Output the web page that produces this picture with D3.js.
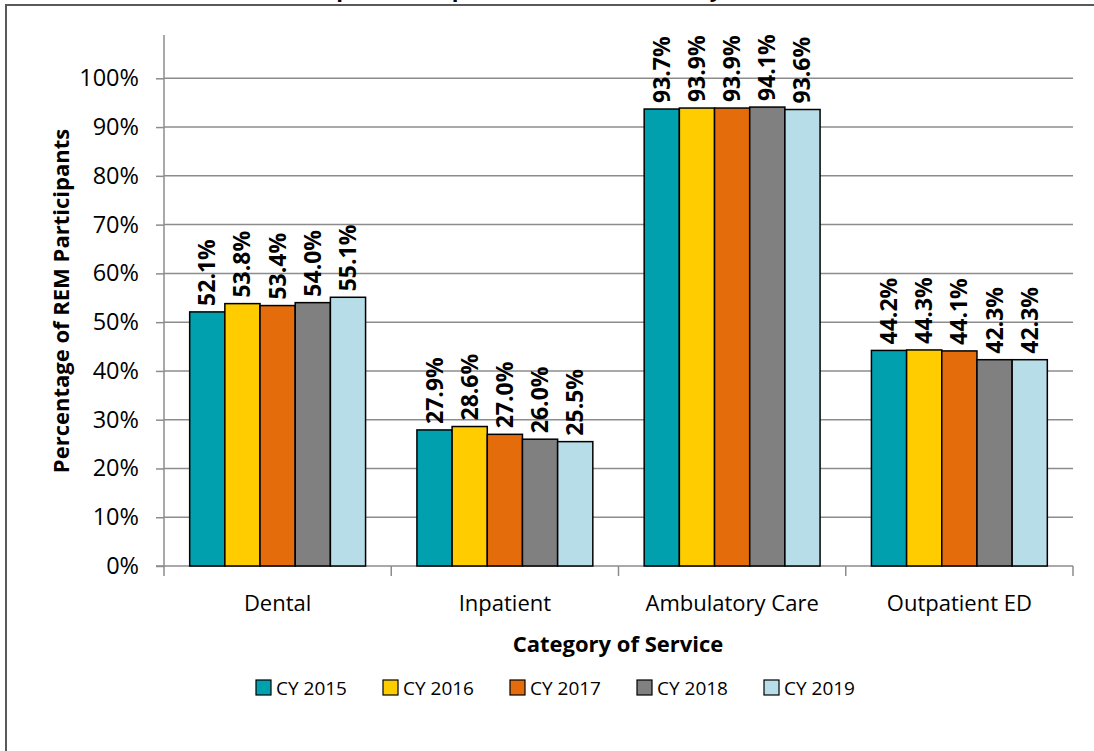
<!DOCTYPE html>
<html><head><meta charset="utf-8">
<script src="https://cdn.jsdelivr.net/npm/d3@7"></script>
<style>
body{margin:0;background:#fff;}
svg{display:block;font-family:"Open Sans",Lato,sans-serif;}
</style></head>
<body>
<svg id="chart" width="1094" height="751"></svg>
<script>
const categories = ["Dental", "Inpatient", "Ambulatory Care", "Outpatient ED"];
const seriesNames = ["CY 2015", "CY 2016", "CY 2017", "CY 2018", "CY 2019"];
const cy2015 = [0.521, 0.279, 0.937, 0.442];
const cy2016 = [0.538, 0.286, 0.939, 0.443];
const cy2017 = [0.534, 0.270, 0.939, 0.441];
const cy2018 = [0.540, 0.260, 0.941, 0.423];
const cy2019 = [0.551, 0.255, 0.936, 0.423];
const yTicks = [0, 0.1, 0.2, 0.3, 0.4, 0.5, 0.6, 0.7, 0.8, 0.9, 1.0];
const colors = ["#00A0AE", "#FFCC00", "#E46C0A", "#808080", "#B7DEE8"];
const title = "REM Participant Receipt of Services, Overall by Calendar Year";
const yTitle = "Percentage of REM Participants";
const xTitle = "Category of Service";

const seriesValues = [cy2015, cy2016, cy2017, cy2018, cy2019];
const svg = d3.select("#chart");

// frame
svg.append("rect").attr("x", 6).attr("y", 5).attr("width", 1094).attr("height", 800)
  .attr("fill", "#fff").attr("stroke", "#595959").attr("stroke-width", 2);

// title (mostly clipped above frame, as in the reference)
svg.append("text").attr("x", 547).attr("y", -3).attr("text-anchor", "middle")
  .attr("font-weight", "bold").attr("font-size", 22).attr("fill", "#000").text(title);

const pLeft = 164, pRight = 1073, pTop = 35, pBottom = 566;
const y = d3.scaleLinear().domain([0, 1.0]).range([pBottom, 78.3]);
const x0 = d3.scaleBand().domain(categories).range([pLeft, pRight]).paddingInner(0.226).paddingOuter(0.113);
const x1 = d3.scaleBand().domain(seriesNames).range([0, x0.bandwidth()]);

// gridlines
svg.append("g").selectAll("line").data(yTicks.slice(1)).join("line")
  .attr("x1", pLeft).attr("x2", pRight).attr("y1", d => y(d)).attr("y2", d => y(d))
  .attr("stroke", "#8c8c8c").attr("stroke-width", 1.5);

// y axis
const yAxis = svg.append("g").attr("transform", `translate(${pLeft},0)`)
  .call(d3.axisLeft(y).tickValues(yTicks).tickFormat(d3.format(".0%")).tickSize(8).tickPadding(17));
yAxis.select(".domain").remove();
yAxis.selectAll(".tick line").attr("stroke", "#8c8c8c").attr("stroke-width", 1.5);
yAxis.selectAll(".tick text").attr("font-size", 23.5).attr("fill", "#000").attr("font-family", "Open Sans");
svg.append("line").attr("x1", pLeft).attr("x2", pLeft).attr("y1", pTop).attr("y2", pBottom + 1)
  .attr("stroke", "#8c8c8c").attr("stroke-width", 1.5);

// x axis
svg.append("line").attr("x1", pLeft - 8).attr("x2", pRight).attr("y1", pBottom).attr("y2", pBottom)
  .attr("stroke", "#8c8c8c").attr("stroke-width", 1.5);
const bounds = categories.map(c => x0(c) - x0.step() * x0.paddingInner() / 2);
bounds.push(pRight);
svg.append("g").selectAll("line").data(bounds).join("line")
  .attr("x1", d => d).attr("x2", d => d).attr("y1", pBottom).attr("y2", pBottom + 10)
  .attr("stroke", "#8c8c8c").attr("stroke-width", 1.5);
svg.append("g").selectAll("text").data(categories).join("text")
  .attr("x", d => x0(d) + x0.bandwidth() / 2).attr("y", 611)
  .attr("text-anchor", "middle").attr("font-size", 22).attr("fill", "#000").text(d => d);

// bars
const rows = [];
categories.forEach((c, i) => seriesNames.forEach((s, j) => rows.push({c, s, j, v: seriesValues[j][i]})));
const g = svg.append("g");
g.selectAll("rect").data(rows).join("rect")
  .attr("x", d => x0(d.c) + x1(d.s)).attr("width", x1.bandwidth())
  .attr("y", d => y(d.v)).attr("height", d => pBottom - y(d.v))
  .attr("fill", d => colors[d.j]).attr("stroke", "#000").attr("stroke-width", 1.5);
g.selectAll("text").data(rows).join("text")
  .attr("transform", d => `translate(${x0(d.c) + x1(d.s) + x1.bandwidth() / 2 + 8},${y(d.v) - 6}) rotate(-90)`)
  .attr("font-size", 23).attr("font-weight", "bold").attr("fill", "#000")
  .text(d => d3.format(".1%")(d.v));

// axis titles
svg.append("text").attr("transform", "translate(69,301) rotate(-90)").attr("text-anchor", "middle")
  .attr("font-size", 22).attr("font-weight", "bold").attr("fill", "#000").text(yTitle);
svg.append("text").attr("x", 618).attr("y", 652).attr("text-anchor", "middle")
  .attr("font-size", 22).attr("font-weight", "bold").attr("fill", "#000").text(xTitle);

// legend
const lg = svg.append("g").selectAll("g").data(seriesNames).join("g")
  .attr("transform", (d, i) => `translate(${256 + i * 127},680)`);
lg.append("rect").attr("width", 15).attr("height", 15)
  .attr("fill", (d, i) => colors[i]).attr("stroke", "#000").attr("stroke-width", 1.2);
lg.append("text").attr("x", 20).attr("y", 15).attr("font-size", 19).attr("fill", "#000").text(d => d);
</script>
</body></html>
